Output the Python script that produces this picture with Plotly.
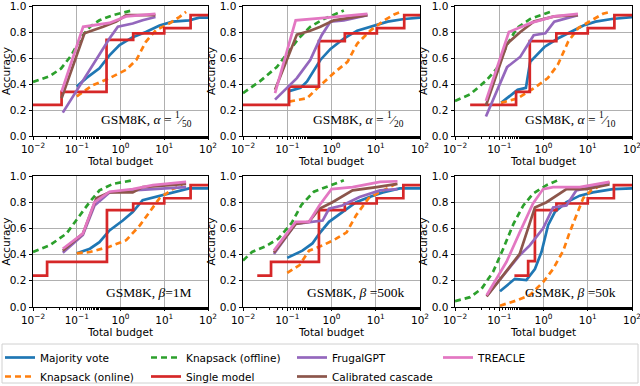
import plotly.graph_objects as go
from plotly.subplots import make_subplots

# ---- data (x = total budget, y = accuracy) ----
# panel 1: alpha = 1/50
a50_mv_x = [0.1, 0.165, 0.33, 0.56, 0.95, 1.9, 3.8, 7.8, 15.6, 37, 63, 100]
a50_mv_y = [0.38, 0.445, 0.52, 0.62, 0.70, 0.76, 0.80, 0.85, 0.88, 0.89, 0.91, 0.91]
a50_kon_x = [0.1, 0.23, 0.56, 1.35, 2.3, 3.8, 6.5, 13, 22, 31.6]
a50_kon_y = [0.305, 0.39, 0.445, 0.51, 0.585, 0.725, 0.815, 0.865, 0.915, 0.955]
a50_koff_x = [0.01, 0.024, 0.044, 0.075, 0.127, 0.2, 0.33, 0.67, 1.8]
a50_koff_y = [0.415, 0.46, 0.52, 0.62, 0.76, 0.84, 0.89, 0.93, 0.965]
a50_sm_x = [0.01, 0.045, 0.48, 1.95, 10, 40, 100]
a50_sm_y = [0.24, 0.34, 0.74, 0.79, 0.83, 0.93, 0.93]
a50_fg_x = [0.048, 0.28, 0.56, 0.87, 1.9, 3.2, 6.3]
a50_fg_y = [0.18, 0.585, 0.75, 0.84, 0.865, 0.89, 0.915]
a50_cc_x = [0.045, 0.15, 0.4, 0.8, 1.35, 6.3]
a50_cc_y = [0.29, 0.79, 0.84, 0.88, 0.93, 0.93]
a50_tr_x = [0.045, 0.14, 0.56, 1.35, 6.3]
a50_tr_y = [0.34, 0.84, 0.87, 0.92, 0.94]

# panel 2: alpha = 1/20
a20_mv_x = [0.11, 0.2, 0.28, 0.56, 0.95, 1.9, 3.8, 7.8, 18.6, 44, 100]
a20_mv_y = [0.345, 0.37, 0.42, 0.585, 0.67, 0.75, 0.81, 0.84, 0.88, 0.90, 0.91]
a20_kon_x = [0.11, 0.28, 0.56, 1.13, 2.3, 3.8, 7.8, 15.6, 26, 37]
a20_kon_y = [0.265, 0.29, 0.39, 0.485, 0.57, 0.71, 0.815, 0.89, 0.935, 0.955]
a20_koff_x = [0.01, 0.024, 0.058, 0.106, 0.18, 0.33, 0.67, 1.9]
a20_koff_y = [0.33, 0.42, 0.53, 0.65, 0.75, 0.84, 0.90, 0.965]
a20_sm_x = [0.01, 0.11, 0.52, 2.0, 10.6, 44, 100]
a20_sm_y = [0.24, 0.38, 0.73, 0.79, 0.83, 0.93, 0.93]
a20_fg_x = [0.053, 0.165, 0.33, 0.6, 0.95, 1.9, 6.5]
a20_fg_y = [0.28, 0.445, 0.585, 0.775, 0.88, 0.89, 0.93]
a20_cc_x = [0.053, 0.165, 0.33, 0.56, 1.13, 6.5]
a20_cc_y = [0.355, 0.78, 0.81, 0.84, 0.89, 0.93]
a20_tr_x = [0.053, 0.155, 0.8, 6.5]
a20_tr_y = [0.33, 0.89, 0.91, 0.94]

# panel 3: alpha = 1/10
a10_mv_x = [0.11, 0.26, 0.4, 0.5, 1.05, 2.1, 4.1, 8, 15, 35, 100]
a10_mv_y = [0.255, 0.355, 0.37, 0.57, 0.685, 0.75, 0.80, 0.85, 0.88, 0.90, 0.915]
a10_kon_x = [0.11, 0.26, 0.62, 1.25, 2.1, 3.6, 6.1, 12, 22, 33]
a10_kon_y = [0.255, 0.29, 0.37, 0.445, 0.547, 0.725, 0.83, 0.89, 0.94, 0.955]
a10_koff_x = [0.01, 0.022, 0.052, 0.088, 0.15, 0.25, 0.5, 1.7]
a10_koff_y = [0.27, 0.32, 0.43, 0.52, 0.70, 0.83, 0.90, 0.965]
a10_sm_x = [0.022, 0.24, 0.49, 1.95, 10, 40, 100]
a10_sm_y = [0.24, 0.34, 0.73, 0.79, 0.83, 0.93, 0.93]
a10_fg_x = [0.05, 0.15, 0.3, 0.6, 1.1, 1.75, 6.0]
a10_fg_y = [0.15, 0.53, 0.61, 0.775, 0.79, 0.88, 0.93]
a10_cc_x = [0.05, 0.15, 0.3, 0.6, 1.75, 6.0]
a10_cc_y = [0.235, 0.71, 0.80, 0.88, 0.92, 0.93]
a10_tr_x = [0.05, 0.165, 0.52, 1.75, 6.0]
a10_tr_y = [0.27, 0.80, 0.87, 0.92, 0.94]

# panel 4: beta = 1M
b1m_mv_x = [0.1, 0.2, 0.33, 0.56, 1.13, 1.9, 3.2, 6.5, 15.6, 37, 100]
b1m_mv_y = [0.41, 0.445, 0.495, 0.585, 0.66, 0.725, 0.815, 0.84, 0.875, 0.905, 0.905]
b1m_kon_x = [0.1, 0.2, 0.56, 1.35, 2.8, 4.6, 7.8, 15.6, 26]
b1m_kon_y = [0.41, 0.42, 0.46, 0.51, 0.625, 0.725, 0.83, 0.90, 0.93]
b1m_koff_x = [0.01, 0.024, 0.058, 0.116, 0.196, 0.33, 0.67, 1.9]
b1m_koff_y = [0.42, 0.47, 0.56, 0.70, 0.80, 0.89, 0.94, 0.967]
b1m_sm_x = [0.01, 0.021, 0.49, 1.95, 10, 40, 100]
b1m_sm_y = [0.24, 0.345, 0.74, 0.79, 0.83, 0.93, 0.93]
b1m_fg_x = [0.048, 0.138, 0.255, 0.56, 1.9, 5.5, 31.6]
b1m_fg_y = [0.415, 0.55, 0.775, 0.875, 0.89, 0.90, 0.915]
b1m_cc_x = [0.048, 0.138, 0.28, 0.56, 1.9, 3.2, 31.6]
b1m_cc_y = [0.43, 0.56, 0.83, 0.875, 0.875, 0.915, 0.94]
b1m_tr_x = [0.048, 0.138, 0.255, 0.56, 1.9, 5.5, 31.6]
b1m_tr_y = [0.445, 0.56, 0.80, 0.88, 0.90, 0.93, 0.955]

# panel 5: beta = 500k
b500_mv_x = [0.1, 0.22, 0.37, 0.53, 0.88, 1.75, 3.6, 7.2, 14.5, 35, 100]
b500_mv_y = [0.375, 0.43, 0.485, 0.56, 0.65, 0.725, 0.80, 0.84, 0.875, 0.905, 0.905]
b500_kon_x = [0.1, 0.19, 0.31, 0.63, 1.25, 2.2, 3.6, 6.9, 12, 24, 33]
b500_kon_y = [0.26, 0.32, 0.43, 0.47, 0.52, 0.57, 0.70, 0.83, 0.875, 0.93, 0.95]
b500_koff_x = [0.01, 0.016, 0.031, 0.062, 0.125, 0.21, 0.4, 0.8, 1.9]
b500_koff_y = [0.355, 0.42, 0.46, 0.52, 0.64, 0.78, 0.88, 0.92, 0.967]
b500_sm_x = [0.021, 0.043, 0.52, 2.0, 10.5, 42, 100]
b500_sm_y = [0.24, 0.345, 0.74, 0.79, 0.83, 0.93, 0.93]
b500_fg_x = [0.05, 0.155, 0.63, 0.88, 1.75, 4.3, 12.5, 31]
b500_fg_y = [0.405, 0.635, 0.66, 0.75, 0.775, 0.84, 0.89, 0.90]
b500_cc_x = [0.05, 0.155, 0.31, 0.53, 1.05, 3.0, 10.5, 31]
b500_cc_y = [0.415, 0.635, 0.65, 0.75, 0.80, 0.89, 0.915, 0.94]
b500_tr_x = [0.05, 0.155, 0.31, 0.53, 1.0, 3.0, 12.5, 31]
b500_tr_y = [0.43, 0.65, 0.65, 0.775, 0.90, 0.915, 0.955, 0.96]

# panel 6: beta = 50k
b50_mv_x = [0.104, 0.225, 0.41, 0.64, 0.9, 1.27, 1.8, 3.3, 6.6, 13, 37, 100]
b50_mv_y = [0.12, 0.215, 0.205, 0.29, 0.42, 0.625, 0.725, 0.80, 0.85, 0.875, 0.90, 0.905]
b50_kon_x = [0.104, 0.246, 0.49, 0.98, 1.65, 2.8, 3.9, 5.5, 7.9, 12, 20, 31]
b50_kon_y = [0.01, 0.05, 0.09, 0.19, 0.29, 0.43, 0.57, 0.70, 0.83, 0.89, 0.93, 0.955]
b50_koff_x = [0.01, 0.022, 0.04, 0.073, 0.123, 0.21, 0.35, 0.58, 1.17, 2.1]
b50_koff_y = [0.045, 0.075, 0.14, 0.27, 0.445, 0.635, 0.775, 0.865, 0.93, 0.967]
b50_sm_x = [0.22, 0.45, 0.64, 1.96, 10, 39, 100]
b50_sm_y = [0.24, 0.35, 0.74, 0.79, 0.83, 0.93, 0.93]
b50_fg_x = [0.052, 0.29, 0.49, 0.98, 1.65, 3.3, 5.5, 31]
b50_fg_y = [0.085, 0.395, 0.47, 0.60, 0.76, 0.775, 0.89, 0.945]
b50_cc_x = [0.052, 0.123, 0.29, 0.64, 1.17, 3.3, 9.3, 31]
b50_cc_y = [0.08, 0.24, 0.405, 0.76, 0.80, 0.90, 0.90, 0.935]
b50_tr_x = [0.052, 0.146, 0.29, 0.58, 0.98, 1.65, 6.6, 31]
b50_tr_y = [0.09, 0.345, 0.57, 0.79, 0.90, 0.915, 0.915, 0.955]

panel_labels = ["GSM8K, <i>α</i> = <sup>1</sup>⁄<sub>50</sub>",
                "GSM8K, <i>α</i> = <sup>1</sup>⁄<sub>20</sub>",
                "GSM8K, <i>α</i> = <sup>1</sup>⁄<sub>10</sub>",
                "GSM8K, <i>β</i>=1M",
                "GSM8K, <i>β</i> =500k",
                "GSM8K, <i>β</i> =50k"]

panels = [
    [(a50_mv_x, a50_mv_y), (a50_kon_x, a50_kon_y), (a50_koff_x, a50_koff_y), (a50_sm_x, a50_sm_y),
     (a50_fg_x, a50_fg_y), (a50_cc_x, a50_cc_y), (a50_tr_x, a50_tr_y)],
    [(a20_mv_x, a20_mv_y), (a20_kon_x, a20_kon_y), (a20_koff_x, a20_koff_y), (a20_sm_x, a20_sm_y),
     (a20_fg_x, a20_fg_y), (a20_cc_x, a20_cc_y), (a20_tr_x, a20_tr_y)],
    [(a10_mv_x, a10_mv_y), (a10_kon_x, a10_kon_y), (a10_koff_x, a10_koff_y), (a10_sm_x, a10_sm_y),
     (a10_fg_x, a10_fg_y), (a10_cc_x, a10_cc_y), (a10_tr_x, a10_tr_y)],
    [(b1m_mv_x, b1m_mv_y), (b1m_kon_x, b1m_kon_y), (b1m_koff_x, b1m_koff_y), (b1m_sm_x, b1m_sm_y),
     (b1m_fg_x, b1m_fg_y), (b1m_cc_x, b1m_cc_y), (b1m_tr_x, b1m_tr_y)],
    [(b500_mv_x, b500_mv_y), (b500_kon_x, b500_kon_y), (b500_koff_x, b500_koff_y), (b500_sm_x, b500_sm_y),
     (b500_fg_x, b500_fg_y), (b500_cc_x, b500_cc_y), (b500_tr_x, b500_tr_y)],
    [(b50_mv_x, b50_mv_y), (b50_kon_x, b50_kon_y), (b50_koff_x, b50_koff_y), (b50_sm_x, b50_sm_y),
     (b50_fg_x, b50_fg_y), (b50_cc_x, b50_cc_y), (b50_tr_x, b50_tr_y)],
]

# name, colour, dash, step?, legend rank (4 columns, filled row-wise)
methods = [("Majority vote", "#1f77b4", "solid", False, 1),
           ("Knapsack (online)", "#ff7f0e", "dash", False, 5),
           ("Knapsack (offline)", "#2ca02c", "dash", False, 2),
           ("Single model", "#d62728", "solid", True, 6),
           ("FrugalGPT", "#9467bd", "solid", False, 3),
           ("Calibrated cascade", "#8c564b", "solid", False, 7),
           ("TREACLE", "#e377c2", "solid", False, 4)]

fig = make_subplots(rows=2, cols=3)

for p, series in enumerate(panels):
    r, c = p // 3 + 1, p % 3 + 1
    for m, (xs, ys) in enumerate(series):
        name, color, dash, step, rank = methods[m]
        fig.add_trace(go.Scatter(
            x=xs, y=ys, mode="lines", name=name,
            line=dict(color=color, width=2.7, dash="6px,4px" if dash == "dash" else "solid",
                      shape="hv" if step else "linear"),
            legendrank=rank, showlegend=(p == 0)), row=r, col=c)

# panel placement (pixels in a 640x386 canvas)
xdom = [[33 / 640, 208 / 640], [243 / 640, 420 / 640], [455 / 640, 632 / 640]]
ydom = [[1 - 136 / 386, 1 - 6 / 386], [1 - 307 / 386, 1 - 176 / 386]]

axfont = dict(family="DejaVu Sans", size=10.5, color="black")
for p in range(6):
    r, c = p // 3, p % 3
    fig.update_xaxes(type="log", range=[-2, 2], domain=xdom[c], automargin=False,
                     tickvals=[0.01, 0.1, 1, 10, 100],
                     ticktext=["10<sup>−2</sup>", "10<sup>−1</sup>", "10<sup>0</sup>",
                               "10<sup>1</sup>", "10<sup>2</sup>"],
                     ticks="outside", ticklen=3, tickcolor="black",
                     minor=dict(ticks="outside", ticklen=2, tickcolor="black",
                                showgrid=False),
                     showline=True, linecolor="black", linewidth=1, mirror=True,
                     showgrid=True, gridcolor="#b0b0b0", gridwidth=0.8,
                     tickfont=axfont, ticklabeloverflow="allow",
                     title=dict(text="Total budget", font=axfont, standoff=0),
                     row=r + 1, col=c + 1)
    fig.update_yaxes(range=[0, 1], domain=ydom[r], automargin=False,
                     tickvals=[0, 0.2, 0.4, 0.6, 0.8, 1.0],
                     ticktext=["0.0", "0.2", "0.4", "0.6", "0.8", "1.0"],
                     ticks="outside", ticklen=3.5, tickcolor="black",
                     showline=True, linecolor="black", linewidth=1, mirror=True,
                     showgrid=True, gridcolor="#b0b0b0", gridwidth=0.8,
                     tickfont=axfont, ticklabeloverflow="allow",
                     title=dict(text="Accuracy", font=axfont, standoff=2),
                     row=r + 1, col=c + 1)

for p, label in enumerate(panel_labels):
    xa = "x" if p == 0 else "x%d" % (p + 1)
    ya = "y" if p == 0 else "y%d" % (p + 1)
    fig.add_annotation(text=label, xref=xa + " domain", yref=ya + " domain",
                       x=0.92, y=0.13 if p < 3 else 0.11,
                       xanchor="right", yanchor="middle", showarrow=False,
                       font=dict(family="Liberation Serif", size=13.5, color="black"))

# legend frame spanning the full width, as in the reference
fig.add_shape(type="rect", xref="paper", yref="paper",
              x0=2 / 640, x1=638 / 640, y0=1 - 383 / 386, y1=1 - 344 / 386,
              line=dict(color="#d0d0d0", width=1), fillcolor="rgba(0,0,0,0)", layer="below")

fig.update_layout(
    width=640, height=386,
    margin=dict(l=0, r=0, t=0, b=0, autoexpand=False),
    paper_bgcolor="white", plot_bgcolor="white",
    font=dict(family="DejaVu Sans", size=10.5, color="black"),
    legend=dict(orientation="h", x=0.0, y=1 - 343 / 386, xanchor="left", yanchor="top",
                entrywidth=101, entrywidthmode="pixels", itemwidth=30,
                borderwidth=0, bgcolor="rgba(0,0,0,0)",
                font=dict(family="DejaVu Sans", size=10.5, color="black"),
                tracegroupgap=0),
)

# drop the default 8px page margin so the figure sits at the window's corner
fig.write_html("out.html", config={"displayModeBar": False},
               post_script="document.body.style.margin='0';")
